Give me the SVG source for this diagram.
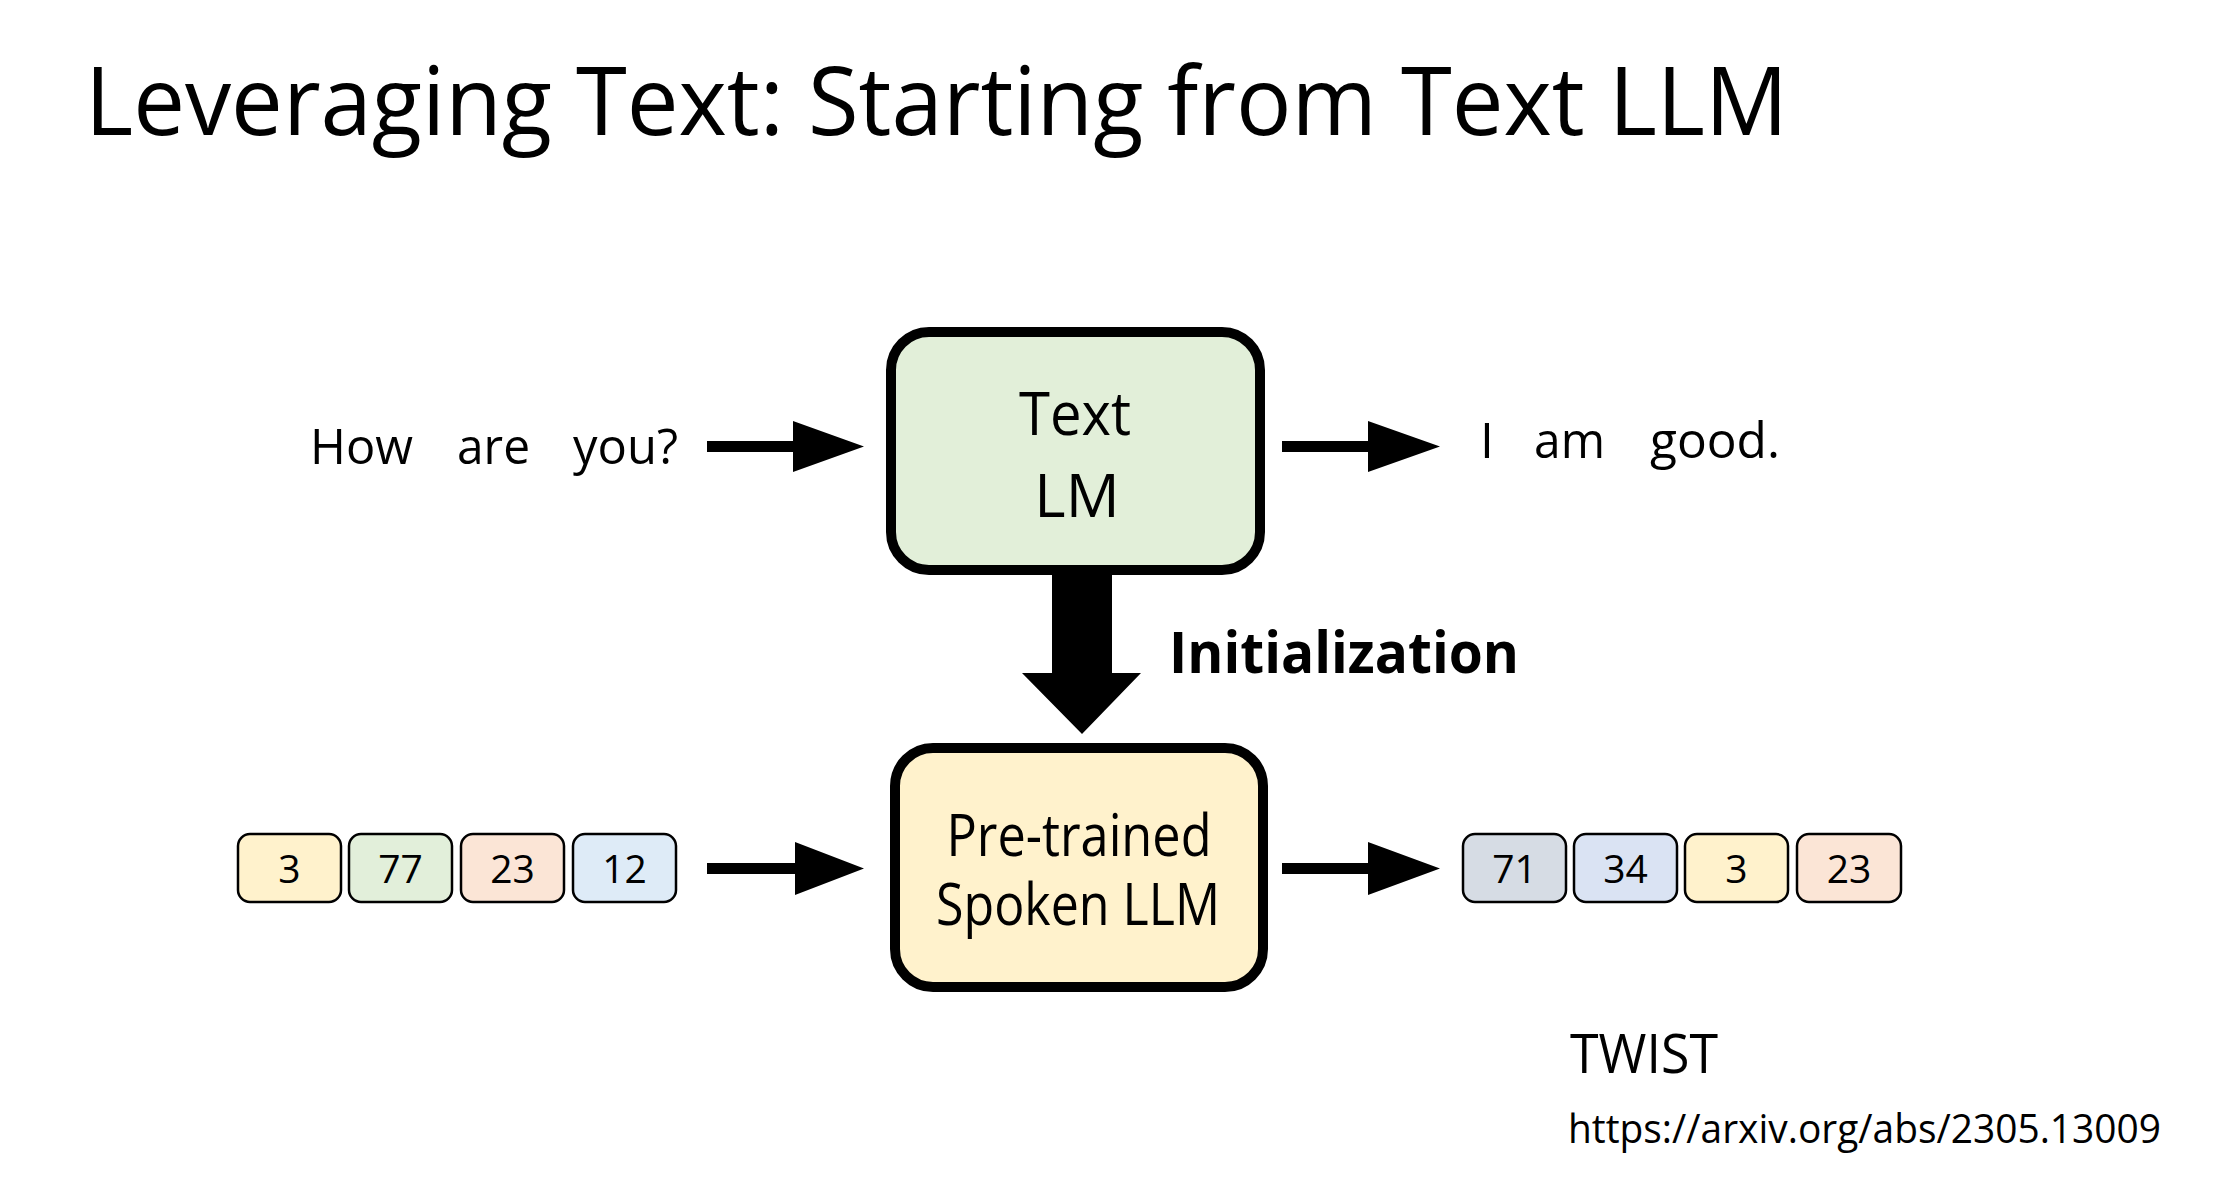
<svg xmlns="http://www.w3.org/2000/svg" width="2230" height="1196" viewBox="0 0 2230 1196">
<style>
text{font-family:"Open Sans","Noto Sans","Liberation Sans",sans-serif;fill:#000}
.big{stroke:#000;stroke-width:10}
.tok{stroke:#000;stroke-width:2.5}
.num{font-size:39px;text-anchor:middle}
.word{font-size:50px}
.arr{fill:#000}
</style>
<rect width="2230" height="1196" fill="#fff"/>
<text id="title" x="85" y="135" font-size="95" textLength="1703" lengthAdjust="spacingAndGlyphs">Leveraging Text: Starting from Text LLM</text>

<g id="input-text">
<text class="word" x="310" y="464" textLength="103" lengthAdjust="spacingAndGlyphs">How</text>
<text class="word" x="457" y="464" textLength="73" lengthAdjust="spacingAndGlyphs">are</text>
<text class="word" x="573" y="464" textLength="105" lengthAdjust="spacingAndGlyphs">you?</text>
</g>
<g id="output-text">
<text class="word" x="1480" y="458">I</text>
<text class="word" x="1534" y="458" textLength="71" lengthAdjust="spacingAndGlyphs">am</text>
<text class="word" x="1650" y="458" textLength="130" lengthAdjust="spacingAndGlyphs">good.</text>
</g>

<g id="text-lm">
<rect class="big" x="891" y="332" width="369" height="238" rx="38" fill="#E2EFD9"/>
<text x="1075" y="435" font-size="60" text-anchor="middle" textLength="112" lengthAdjust="spacingAndGlyphs">Text</text>
<text x="1077" y="517" font-size="60" text-anchor="middle">LM</text>
</g>

<g id="spoken-llm">
<rect class="big" x="895" y="748" width="368" height="239" rx="38" fill="#FFF2CC"/>
<text x="1079" y="856" font-size="58" text-anchor="middle" textLength="265" lengthAdjust="spacingAndGlyphs">Pre-trained</text>
<text x="1078" y="925" font-size="58" text-anchor="middle" textLength="284" lengthAdjust="spacingAndGlyphs">Spoken LLM</text>
</g>

<g id="input-tokens">
<rect class="tok" x="238" y="834" width="103" height="68" rx="12" fill="#FFF2CC"/>
<text class="num" x="289.5" y="883">3</text>
<rect class="tok" x="349" y="834" width="103" height="68" rx="12" fill="#E2EFDA"/>
<text class="num" x="400.5" y="883">77</text>
<rect class="tok" x="461" y="834" width="103" height="68" rx="12" fill="#FBE5D6"/>
<text class="num" x="512.5" y="883">23</text>
<rect class="tok" x="573" y="834" width="103" height="68" rx="12" fill="#DEEBF7"/>
<text class="num" x="624.5" y="883">12</text>
</g>

<g id="output-tokens">
<rect class="tok" x="1463" y="834" width="103" height="68" rx="12" fill="#D6DCE4"/>
<text class="num" x="1514.5" y="883">71</text>
<rect class="tok" x="1574" y="834" width="103" height="68" rx="12" fill="#DAE3F3"/>
<text class="num" x="1625.5" y="883">34</text>
<rect class="tok" x="1685" y="834" width="103" height="68" rx="12" fill="#FFF2CC"/>
<text class="num" x="1736.5" y="883">3</text>
<rect class="tok" x="1797" y="834" width="104" height="68" rx="12" fill="#FBE5D6"/>
<text class="num" x="1849" y="883">23</text>
</g>

<g id="initialization-label">
<text x="1169" y="673" font-size="57" font-weight="bold" textLength="350" lengthAdjust="spacingAndGlyphs">Initialization</text>
</g>

<g id="reference">
<text x="1570" y="1073" font-size="55" textLength="148" lengthAdjust="spacingAndGlyphs">TWIST</text>
<text x="1568" y="1143" font-size="41" textLength="593" lengthAdjust="spacingAndGlyphs">https://arxiv.org/abs/2305.13009</text>
</g>

<g id="connectors">
<polygon class="arr" points="707,441 793,441 793,421 864,446.5 793,472 793,452 707,452"/>
<polygon class="arr" points="1282,441 1368,441 1368,421 1440,446.5 1368,472 1368,452 1282,452"/>
<polygon class="arr" points="707,863 795,863 795,842 864,868.5 795,895 795,874 707,874"/>
<polygon class="arr" points="1282,863 1368,863 1368,842 1440,868.5 1368,895 1368,874 1282,874"/>
<polygon class="arr" points="1052,575 1112,575 1112,673 1141,673 1082,734 1022,673 1052,673"/>
</g>
</svg>
